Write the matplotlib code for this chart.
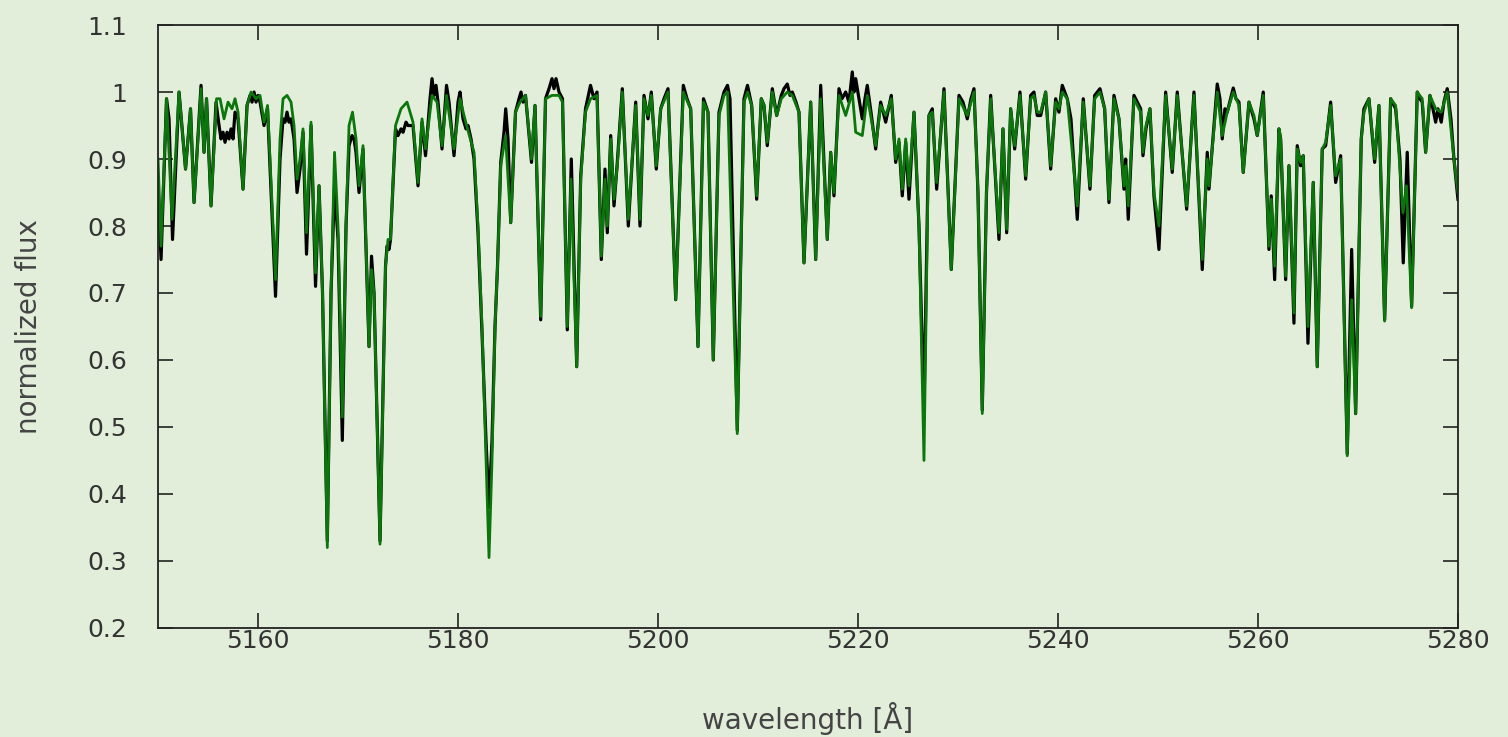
import numpy as np
import matplotlib
matplotlib.use("Agg")
import matplotlib.pyplot as plt
from matplotlib.ticker import FuncFormatter, MultipleLocator

obs_points = [
    (5150.0, 0.86), (5150.3, 0.75), (5150.85, 0.99), (5151.1, 0.96), (5151.45, 0.78),
    (5152.1, 1.0), (5152.75, 0.885), (5153.25, 0.975), (5153.6, 0.835), (5154.3, 1.01),
    (5154.6, 0.91), (5154.85, 0.99), (5155.3, 0.83), (5155.8, 0.985), (5156.1, 0.95),
    (5156.3, 0.93), (5156.5, 0.94), (5156.7, 0.925), (5156.9, 0.94), (5157.1, 0.93),
    (5157.3, 0.945), (5157.5, 0.93), (5157.7, 0.97), (5158.0, 0.96), (5158.5, 0.855),
    (5158.9, 0.98), (5159.2, 0.995), (5159.4, 0.985), (5159.6, 1.0), (5159.8, 0.985),
    (5160.0, 0.995), (5160.2, 0.985), (5160.6, 0.95), (5160.95, 0.975), (5161.75, 0.695),
    (5162.2, 0.9), (5162.5, 0.96), (5162.7, 0.955), (5162.9, 0.97), (5163.1, 0.955),
    (5163.3, 0.96), (5163.6, 0.93), (5163.9, 0.85), (5164.2, 0.885), (5164.5, 0.94),
    (5164.85, 0.758), (5165.3, 0.95), (5165.75, 0.71), (5166.1, 0.86), (5166.45, 0.7),
    (5166.93, 0.33), (5167.3, 0.7), (5167.65, 0.86), (5168.0, 0.78), (5168.43, 0.48),
    (5168.8, 0.8), (5169.1, 0.92), (5169.4, 0.935), (5169.6, 0.93), (5169.8, 0.91),
    (5170.1, 0.85), (5170.5, 0.915), (5171.1, 0.62), (5171.35, 0.755), (5171.6, 0.7),
    (5172.2, 0.33), (5172.75, 0.74), (5172.9, 0.77), (5173.1, 0.765), (5173.25, 0.78),
    (5173.75, 0.945), (5174.0, 0.935), (5174.3, 0.945), (5174.5, 0.94), (5174.8, 0.955),
    (5175.0, 0.95), (5175.5, 0.95), (5176.0, 0.86), (5176.4, 0.955), (5176.75, 0.905),
    (5177.2, 0.99), (5177.4, 1.02), (5177.6, 0.995), (5177.8, 1.01), (5178.0, 0.985),
    (5178.4, 0.915), (5178.85, 1.01), (5179.1, 0.985), (5179.6, 0.905), (5180.0, 0.985),
    (5180.2, 1.0), (5180.5, 0.96), (5180.8, 0.945), (5181.0, 0.95), (5181.3, 0.93),
    (5181.6, 0.9), (5182.0, 0.79), (5182.4, 0.64), (5182.8, 0.48), (5183.1, 0.38),
    (5183.4, 0.48), (5183.7, 0.65), (5183.95, 0.74), (5184.27, 0.895), (5184.6, 0.94),
    (5184.77, 0.975), (5185.0, 0.93), (5185.27, 0.805), (5185.75, 0.97), (5186.1, 0.99),
    (5186.3, 1.0), (5186.5, 0.985), (5186.75, 0.995), (5187.35, 0.895), (5187.7, 0.98),
    (5188.27, 0.66), (5188.75, 0.99), (5189.1, 1.005), (5189.4, 1.02), (5189.6, 1.005),
    (5189.8, 1.02), (5190.1, 1.0), (5190.45, 0.99), (5190.93, 0.645), (5191.33, 0.9),
    (5191.87, 0.59), (5192.27, 0.875), (5192.75, 0.975), (5193.25, 1.01), (5193.6, 0.99),
    (5193.9, 1.0), (5194.33, 0.75), (5194.7, 0.885), (5194.93, 0.79), (5195.27, 0.935),
    (5195.6, 0.83), (5195.93, 0.895), (5196.43, 1.005), (5197.03, 0.8), (5197.77, 0.985),
    (5198.2, 0.8), (5198.6, 0.995), (5199.0, 0.96), (5199.33, 1.0), (5199.83, 0.885),
    (5200.27, 0.975), (5200.6, 0.99), (5201.0, 1.005), (5201.77, 0.69), (5202.53, 1.01),
    (5202.9, 0.99), (5203.27, 0.975), (5204.0, 0.62), (5204.55, 0.99), (5205.0, 0.97),
    (5205.53, 0.6), (5206.1, 0.97), (5206.6, 1.0), (5206.95, 1.01), (5207.2, 0.99),
    (5207.93, 0.495), (5208.6, 0.99), (5208.95, 1.01), (5209.37, 0.98), (5209.87, 0.84),
    (5210.33, 0.99), (5210.6, 0.98), (5210.93, 0.92), (5211.43, 1.005), (5211.87, 0.965),
    (5212.33, 0.995), (5212.6, 1.005), (5212.93, 1.012), (5213.2, 0.995), (5213.43, 1.0),
    (5213.8, 0.985), (5214.1, 0.97), (5214.6, 0.745), (5215.27, 0.985), (5215.77, 0.75),
    (5216.27, 1.01), (5216.93, 0.78), (5217.27, 0.91), (5217.6, 0.845), (5218.1, 1.005),
    (5218.4, 0.99), (5218.77, 1.0), (5219.1, 0.985), (5219.43, 1.03), (5219.6, 1.0),
    (5219.77, 1.02), (5220.1, 0.99), (5220.43, 0.96), (5220.7, 0.99), (5220.93, 1.01),
    (5221.3, 0.97), (5221.77, 0.915), (5222.0, 0.95), (5222.27, 0.985), (5222.77, 0.955),
    (5223.33, 0.995), (5223.77, 0.895), (5224.1, 0.925), (5224.43, 0.845), (5224.77, 0.925),
    (5225.1, 0.84), (5225.6, 0.97), (5226.1, 0.8), (5226.6, 0.525), (5227.1, 0.965),
    (5227.43, 0.975), (5227.87, 0.855), (5228.6, 1.005), (5229.33, 0.735), (5230.1, 0.995),
    (5230.5, 0.985), (5230.93, 0.96), (5231.3, 0.99), (5231.6, 1.005), (5232.0, 0.85),
    (5232.43, 0.525), (5232.85, 0.85), (5233.27, 0.995), (5234.1, 0.78), (5234.5, 0.945),
    (5234.87, 0.79), (5235.27, 0.975), (5235.67, 0.915), (5236.2, 1.0), (5236.77, 0.87),
    (5237.27, 0.995), (5237.6, 1.0), (5237.93, 0.965), (5238.27, 0.965), (5238.77, 1.0),
    (5239.27, 0.885), (5239.77, 0.99), (5240.1, 0.97), (5240.43, 1.01), (5240.93, 0.99),
    (5241.3, 0.96), (5241.93, 0.81), (5242.53, 0.99), (5243.2, 0.855), (5243.67, 0.995),
    (5244.2, 1.005), (5244.67, 0.975), (5245.1, 0.835), (5245.6, 0.995), (5246.1, 0.96),
    (5246.6, 0.855), (5246.77, 0.9), (5247.03, 0.81), (5247.6, 0.995), (5248.27, 0.975),
    (5248.5, 0.905), (5248.8, 0.945), (5249.2, 0.975), (5249.6, 0.845), (5250.1, 0.765),
    (5250.77, 1.0), (5251.43, 0.88), (5251.93, 1.0), (5252.87, 0.825), (5253.6, 1.0),
    (5254.43, 0.735), (5254.93, 0.91), (5255.1, 0.855), (5255.93, 1.012), (5256.2, 0.99),
    (5256.43, 0.93), (5256.7, 0.975), (5256.93, 0.97), (5257.53, 1.006), (5257.8, 0.99),
    (5258.1, 0.985), (5258.53, 0.88), (5259.1, 0.985), (5259.6, 0.96), (5259.93, 0.935),
    (5260.53, 1.0), (5261.1, 0.765), (5261.33, 0.845), (5261.67, 0.72), (5262.1, 0.945),
    (5262.27, 0.93), (5262.77, 0.72), (5263.1, 0.89), (5263.6, 0.655), (5263.93, 0.92),
    (5264.27, 0.89), (5264.53, 0.905), (5265.0, 0.625), (5265.53, 0.865), (5265.93, 0.59),
    (5266.43, 0.915), (5266.77, 0.92), (5267.27, 0.985), (5267.77, 0.865), (5268.27, 0.905),
    (5268.93, 0.46), (5269.37, 0.765), (5269.77, 0.52), (5270.33, 0.93), (5270.6, 0.975),
    (5271.1, 0.99), (5271.67, 0.895), (5272.1, 0.98), (5272.67, 0.66), (5273.27, 0.99),
    (5273.77, 0.975), (5274.2, 0.9), (5274.53, 0.745), (5274.93, 0.91), (5275.37, 0.68),
    (5275.93, 1.0), (5276.2, 0.99), (5276.43, 0.985), (5276.77, 0.91), (5277.2, 0.995),
    (5277.5, 0.975), (5277.77, 0.955), (5278.0, 0.975), (5278.33, 0.955), (5278.6, 0.985),
    (5278.93, 1.005), (5279.3, 0.96), (5279.6, 0.9), (5280.0, 0.84),
]

# synthetic model spectrum (green)
model_points = [
    (5150.0, 0.9), (5150.3, 0.77), (5150.85, 0.99), (5151.4, 0.81), (5152.1, 1.0),
    (5152.75, 0.885), (5153.25, 0.975), (5153.6, 0.835), (5154.3, 1.005), (5154.6, 0.91),
    (5154.85, 0.99), (5155.3, 0.83), (5155.85, 0.99), (5156.2, 0.99), (5156.6, 0.96),
    (5157.0, 0.985), (5157.4, 0.975), (5157.7, 0.99), (5158.0, 0.97), (5158.5, 0.855),
    (5158.9, 0.98), (5159.3, 1.0), (5159.8, 0.99), (5160.2, 0.995), (5160.6, 0.955),
    (5160.95, 0.98), (5161.75, 0.72), (5162.2, 0.93), (5162.5, 0.99), (5162.9, 0.995),
    (5163.3, 0.985), (5163.6, 0.95), (5163.9, 0.87), (5164.2, 0.9), (5164.5, 0.945),
    (5164.85, 0.79), (5165.3, 0.955), (5165.75, 0.73), (5166.1, 0.86), (5166.45, 0.7),
    (5166.93, 0.32), (5167.3, 0.7), (5167.65, 0.91), (5168.0, 0.8), (5168.43, 0.515),
    (5168.8, 0.8), (5169.1, 0.95), (5169.45, 0.97), (5169.8, 0.93), (5170.1, 0.86),
    (5170.5, 0.92), (5171.1, 0.62), (5171.35, 0.735), (5171.6, 0.7), (5172.2, 0.325),
    (5172.75, 0.74), (5173.0, 0.78), (5173.25, 0.78), (5173.75, 0.95), (5174.3, 0.975),
    (5174.9, 0.985), (5175.5, 0.955), (5176.0, 0.865), (5176.4, 0.96), (5176.75, 0.915),
    (5177.4, 0.995), (5177.9, 0.985), (5178.4, 0.92), (5178.85, 0.995), (5179.6, 0.915),
    (5180.2, 0.99), (5180.6, 0.965), (5180.95, 0.945), (5181.6, 0.91), (5182.0, 0.8),
    (5182.4, 0.65), (5182.8, 0.45), (5183.1, 0.305), (5183.4, 0.45), (5183.7, 0.65),
    (5183.95, 0.74), (5184.27, 0.89), (5184.75, 0.935), (5185.27, 0.805), (5185.75, 0.97),
    (5186.2, 0.985), (5186.75, 0.995), (5187.35, 0.9), (5187.7, 0.98), (5188.27, 0.665),
    (5188.75, 0.99), (5189.4, 0.995), (5190.1, 0.995), (5190.45, 0.985), (5190.93, 0.65),
    (5191.3, 0.87), (5191.87, 0.59), (5192.27, 0.87), (5192.75, 0.97), (5193.25, 0.99),
    (5193.9, 0.995), (5194.33, 0.755), (5194.7, 0.87), (5194.93, 0.8), (5195.27, 0.93),
    (5195.6, 0.84), (5195.93, 0.89), (5196.43, 1.0), (5197.03, 0.81), (5197.77, 0.98),
    (5198.2, 0.81), (5198.6, 0.99), (5199.0, 0.965), (5199.33, 0.995), (5199.83, 0.89),
    (5200.27, 0.975), (5201.0, 1.0), (5201.77, 0.69), (5202.53, 1.0), (5203.27, 0.975),
    (5204.0, 0.62), (5204.55, 0.985), (5205.0, 0.97), (5205.53, 0.6), (5206.1, 0.965),
    (5206.6, 0.995), (5206.95, 1.0), (5207.93, 0.49), (5208.6, 0.985), (5208.95, 1.0),
    (5209.37, 0.98), (5209.87, 0.845), (5210.33, 0.99), (5210.6, 0.98), (5210.93, 0.925),
    (5211.43, 1.0), (5211.87, 0.965), (5212.33, 0.99), (5212.93, 1.0), (5213.43, 0.995),
    (5214.1, 0.97), (5214.6, 0.745), (5215.27, 0.985), (5215.77, 0.75), (5216.27, 0.99),
    (5216.93, 0.78), (5217.27, 0.91), (5217.6, 0.85), (5218.1, 0.995), (5218.77, 0.965),
    (5219.43, 1.0), (5219.77, 0.94), (5220.43, 0.935), (5220.93, 0.995), (5221.77, 0.92),
    (5222.27, 0.98), (5222.77, 0.965), (5223.33, 0.99), (5223.77, 0.9), (5224.1, 0.93),
    (5224.43, 0.855), (5224.77, 0.93), (5225.1, 0.86), (5225.6, 0.97), (5226.1, 0.8),
    (5226.6, 0.45), (5227.1, 0.965), (5227.43, 0.97), (5227.87, 0.865), (5228.6, 1.0),
    (5229.33, 0.735), (5230.1, 0.99), (5230.93, 0.965), (5231.6, 1.0), (5232.0, 0.85),
    (5232.43, 0.52), (5232.85, 0.85), (5233.27, 0.99), (5234.1, 0.79), (5234.5, 0.945),
    (5234.87, 0.795), (5235.27, 0.975), (5235.67, 0.92), (5236.2, 0.995), (5236.77, 0.875),
    (5237.27, 0.99), (5237.6, 0.995), (5237.93, 0.97), (5238.27, 0.97), (5238.77, 1.0),
    (5239.27, 0.89), (5239.77, 0.985), (5240.1, 0.975), (5240.43, 1.0), (5240.93, 0.99),
    (5241.93, 0.83), (5242.53, 0.985), (5243.2, 0.86), (5243.67, 0.99), (5244.2, 1.0),
    (5244.67, 0.975), (5245.1, 0.84), (5245.6, 0.99), (5246.1, 0.96), (5246.6, 0.86),
    (5246.77, 0.89), (5247.03, 0.83), (5247.6, 0.99), (5248.27, 0.97), (5248.5, 0.91),
    (5248.8, 0.95), (5249.2, 0.975), (5249.6, 0.85), (5250.1, 0.8), (5250.77, 0.995),
    (5251.43, 0.885), (5251.93, 0.995), (5252.87, 0.83), (5253.6, 0.995), (5254.43, 0.75),
    (5254.93, 0.9), (5255.1, 0.86), (5255.93, 1.0), (5256.43, 0.935), (5256.93, 0.97),
    (5257.53, 1.0), (5258.1, 0.98), (5258.53, 0.88), (5259.1, 0.985), (5259.6, 0.965),
    (5259.93, 0.935), (5260.53, 0.995), (5261.1, 0.77), (5261.33, 0.84), (5261.67, 0.74),
    (5262.1, 0.945), (5262.27, 0.93), (5262.77, 0.725), (5263.1, 0.89), (5263.6, 0.67),
    (5263.93, 0.915), (5264.27, 0.895), (5264.53, 0.905), (5265.0, 0.65), (5265.53, 0.865),
    (5265.93, 0.59), (5266.43, 0.915), (5266.77, 0.925), (5267.27, 0.98), (5267.77, 0.875),
    (5268.27, 0.9), (5268.93, 0.457), (5269.37, 0.69), (5269.77, 0.52), (5270.33, 0.93),
    (5270.6, 0.97), (5271.1, 0.99), (5271.67, 0.9), (5272.1, 0.98), (5272.67, 0.658),
    (5273.27, 0.99), (5273.77, 0.98), (5274.5, 0.82), (5274.85, 0.86), (5275.37, 0.678),
    (5275.93, 1.0), (5276.43, 0.99), (5276.77, 0.91), (5277.2, 0.995), (5277.77, 0.975),
    (5278.33, 0.97), (5278.93, 1.0), (5279.6, 0.9), (5280.0, 0.85),
]

obs_wl, obs_flux = map(np.array, zip(*obs_points))
mod_wl, mod_flux = map(np.array, zip(*model_points))

bg = '#e2eed9'
fig = plt.figure(figsize=(15.08, 7.37), dpi=100, facecolor=bg)
ax = fig.add_axes([0.1048, 0.148, 0.862, 0.818], facecolor=bg)

ax.plot(obs_wl, obs_flux, color='black', lw=2.3, solid_joinstyle='round')
ax.plot(mod_wl, mod_flux, color='#0b760b', lw=2.0, solid_joinstyle='round')

ax.set_xlim(5150, 5280)
ax.set_ylim(0.2, 1.1)
ax.yaxis.set_major_locator(MultipleLocator(0.1))
ax.set_xticks([5160, 5180, 5200, 5220, 5240, 5260, 5280])
ax.yaxis.set_major_formatter(FuncFormatter(lambda v, p: '%g' % round(v, 2)))

ax.tick_params(direction='in', length=11, width=1.2, top=True, right=True,
               labelsize=18, labelcolor='#333333', color='#222222')
ax.tick_params(axis='y', pad=22)
ax.tick_params(axis='x', pad=1)
for s in ax.spines.values():
    s.set_linewidth(1.3)
    s.set_color('#222222')

ax.set_xlabel('wavelength [Å]', fontsize=20, color='#444444', labelpad=35)
ax.set_ylabel('normalized flux', fontsize=20, color='#444444', labelpad=32)

fig.savefig('out.png', dpi=100, facecolor=bg)
